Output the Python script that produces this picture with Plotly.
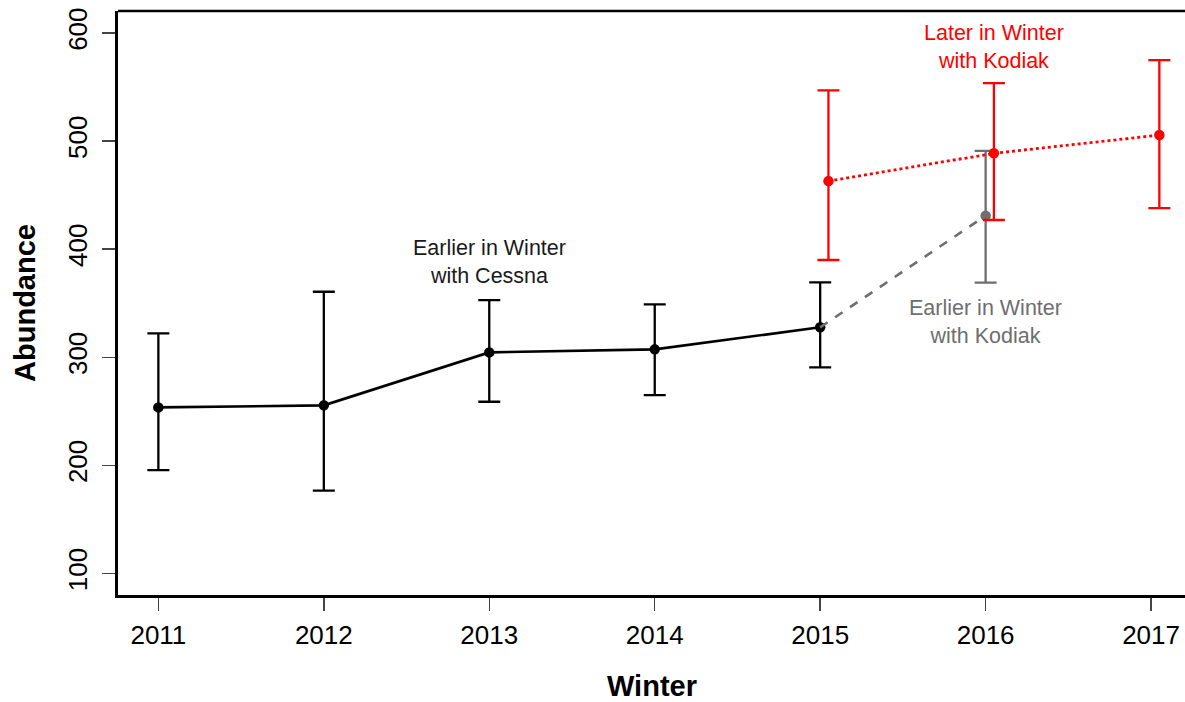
import plotly.graph_objects as go

# Data
cessna_years = [2011, 2012, 2013, 2014, 2015]
cessna_abund = [253.6, 255.5, 304.5, 307.3, 327.7]
cessna_upper = [322.1, 360.6, 352.9, 349.0, 369.3]
cessna_lower = [195.6, 176.5, 258.8, 265.0, 290.7]

kodiak_early_years = [2016]
kodiak_early_abund = [431.0]
kodiak_early_upper = [491.0]
kodiak_early_lower = [369.0]

kodiak_late_years = [2015, 2016, 2017]
kodiak_late_abund = [463.0, 488.7, 505.6]
kodiak_late_upper = [547.0, 553.7, 575.0]
kodiak_late_lower = [390.0, 427.0, 438.0]

x_ticks = [2011, 2012, 2013, 2014, 2015, 2016, 2017]
y_ticks = [100, 200, 300, 400, 500, 600]

late_offset = 0.05

FONT = "Arial, Liberation Sans, sans-serif"
BLACK = "#000000"
GRAY = "#6e6e6e"
RED = "#ff0000"

def err(vals, up, lo):
    return dict(type="data", symmetric=False,
                array=[u - v for u, v in zip(up, vals)],
                arrayminus=[v - l for v, l in zip(vals, lo)])

fig = go.Figure()

# Black Cessna series
e = err(cessna_abund, cessna_upper, cessna_lower)
e.update(color=BLACK, thickness=2.3, width=11)
fig.add_trace(go.Scatter(x=cessna_years, y=cessna_abund, mode="lines+markers",
                         line=dict(color=BLACK, width=2.6),
                         marker=dict(color=BLACK, size=10.5),
                         error_y=e, showlegend=False, hoverinfo="skip"))

# Gray dashed connector 2015 -> 2016
fig.add_trace(go.Scatter(x=[cessna_years[-1], kodiak_early_years[0]],
                         y=[cessna_abund[-1], kodiak_early_abund[0]],
                         mode="lines", line=dict(color=GRAY, width=2.6, dash="dash"),
                         showlegend=False, hoverinfo="skip"))

e = err(kodiak_early_abund, kodiak_early_upper, kodiak_early_lower)
e.update(color=GRAY, thickness=2.3, width=11)
fig.add_trace(go.Scatter(x=kodiak_early_years, y=kodiak_early_abund, mode="markers",
                         marker=dict(color=GRAY, size=10.5),
                         error_y=e, showlegend=False, hoverinfo="skip"))

# Red later series
e = err(kodiak_late_abund, kodiak_late_upper, kodiak_late_lower)
e.update(color=RED, thickness=2.3, width=11)
fig.add_trace(go.Scatter(x=[y + late_offset for y in kodiak_late_years], y=kodiak_late_abund,
                         mode="lines+markers",
                         line=dict(color=RED, width=2.8, dash="dot"),
                         marker=dict(color=RED, size=10.5),
                         error_y=e, showlegend=False, hoverinfo="skip"))

annotations = [
    dict(x=2013, y=388, xref="x", yref="y", text="Earlier in Winter<br>with Cessna",
         showarrow=False, font=dict(family=FONT, size=21.5, color="#1a1a1a"), align="center"),
    dict(x=2016.05, y=587.3, xref="x", yref="y", text="Later in Winter<br>with Kodiak",
         showarrow=False, font=dict(family=FONT, size=21.5, color=RED), align="center"),
    dict(x=2016, y=332.2, xref="x", yref="y", text="Earlier in Winter<br>with Kodiak",
         showarrow=False, font=dict(family=FONT, size=21.5, color=GRAY), align="center"),
    dict(x=0.5, y=-0.156, xref="paper", yref="paper", text="<b>Winter</b>",
         showarrow=False, font=dict(family=FONT, size=29, color=BLACK),
         xanchor="center", yanchor="middle"),
    dict(x=-0.0872, y=0.5, xref="paper", yref="paper", text="<b>Abundance</b>",
         showarrow=False, font=dict(family=FONT, size=29, color=BLACK), textangle=-90,
         xanchor="center", yanchor="middle"),
]

fig.update_layout(
    width=1185, height=702,
    margin=dict(l=118, r=0, t=11, b=107),
    paper_bgcolor="white", plot_bgcolor="white",
    font=dict(family=FONT, color=BLACK),
    annotations=annotations,
    hovermode=False,
    shapes=[dict(type="line", xref="paper", yref="paper", x0=0, x1=1, y0=1, y1=1,
                 line=dict(color=BLACK, width=2.6))],
)
fig.update_xaxes(range=[2010.756, 2017.205], tickmode="array", tickvals=x_ticks,
                 ticktext=[str(t) for t in x_ticks],
                 showgrid=False, zeroline=False, showline=True, linecolor=BLACK, linewidth=2.6,
                 ticks="outside", ticklen=13, tickwidth=1.5, tickcolor="#444444",
                 ticklabeloverflow="allow",
                 tickfont=dict(family=FONT, size=26, color=BLACK), ticklabelstandoff=2)
fig.update_yaxes(range=[80, 620.4], tickmode="array", tickvals=y_ticks,
                 ticktext=[str(t) for t in y_ticks],
                 showgrid=False, zeroline=False, showline=True, linecolor=BLACK, linewidth=2.6,
                 ticks="outside", ticklen=13, tickwidth=1.5, tickcolor="#444444",
                 tickangle=-90, ticklabeloverflow="allow",
                 tickfont=dict(family=FONT, size=26, color=BLACK), ticklabelstandoff=5)

fig.write_html("out.html",
               config={"displayModeBar": False, "staticPlot": True},
               post_script="document.body.style.margin='0';document.body.style.overflow='hidden';")
